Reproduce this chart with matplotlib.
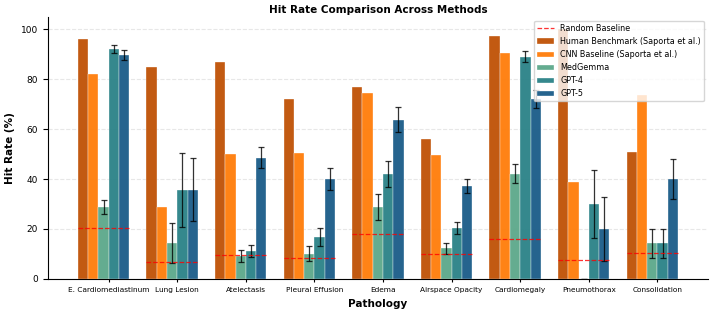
import numpy as np
import matplotlib.pyplot as plt

# Pathologies (x categories)
pathologies = ['E. Cardiomediastinum', 'Lung Lesion', 'Atelectasis', 'Pleural Effusion',
               'Edema', 'Airspace Opacity', 'Cardiomegaly', 'Pneumothorax', 'Consolidation']

# Hit rates (%)
human = [96.0, 85.0, 87.0, 72.0, 77.0, 56.0, 97.2, 100.0, 51.0]
cnn = [82.0, 29.0, 50.0, 50.5, 74.5, 49.7, 90.4, 39.0, 73.8]
medgemma = [28.7, 14.2, 9.2, 10.0, 28.8, 12.2, 42.2, 0.0, 14.2]
medgemma_err = [2.8, 8.0, 2.3, 3.0, 5.3, 2.2, 3.7, 0.0, 5.7]
gpt4 = [92.2, 35.7, 11.2, 16.6, 42.1, 20.3, 89.0, 30.0, 14.2]
gpt4_err = [1.5, 14.8, 2.4, 3.6, 5.3, 2.4, 2.2, 13.7, 5.7]
gpt5 = [89.6, 35.7, 48.5, 40.0, 63.8, 37.2, 72.0, 20.0, 40.0]
gpt5_err = [2.0, 12.7, 4.2, 4.5, 5.0, 2.7, 3.5, 12.7, 8.0]
random_baseline = [20.5, 6.8, 9.4, 8.4, 17.9, 9.8, 15.9, 7.5, 10.3]

series = [
    ('Human Benchmark (Saporta et al.)', human, None, '#c0550a'),
    ('CNN Baseline (Saporta et al.)', cnn, None, '#ff7f0e'),
    ('MedGemma', medgemma, medgemma_err, '#5fa98c'),
    ('GPT-4', gpt4, gpt4_err, '#2e8489'),
    ('GPT-5', gpt5, gpt5_err, '#1f5f8a'),
]

x = np.arange(len(pathologies))
width = 0.15

fig, ax = plt.subplots(figsize=(7.13, 3.18), dpi=100)
fig.subplots_adjust(left=0.067, right=0.993, top=0.947, bottom=0.123)

for i, (name, vals, err, color) in enumerate(series):
    offs = (i - 2.5) * width
    ax.bar(x + offs, vals, width, label=name, color=color, alpha=0.97,
           edgecolor='white', linewidth=0.25, zorder=2)
    if err is not None:
        ax.errorbar(x + offs, vals, yerr=err, fmt='none', ecolor='black',
                    elinewidth=0.9, capsize=2, capthick=0.9, alpha=0.8, zorder=3)

# random baseline per pathology
for j, b in enumerate(random_baseline):
    ax.plot([x[j] - 3 * width, x[j] + 2 * width], [b, b], color='red', linestyle='--',
            linewidth=0.9, alpha=0.8, zorder=4, label='Random Baseline' if j == 0 else None)

ax.set_title('Hit Rate Comparison Across Methods', fontsize=7.5, fontweight='bold', pad=3)
ax.set_xlabel('Pathology', fontsize=7.5, fontweight='bold')
ax.set_ylabel('Hit Rate (%)', fontsize=7.5, fontweight='bold')
ax.set_xticks(x)
ax.set_xticklabels(pathologies, fontsize=5.3)
ax.tick_params(axis='y', labelsize=6.5)
ax.tick_params(axis='x', length=2.5)
ax.set_ylim(0, 105)
ax.grid(axis='y', linestyle='--', alpha=0.3, zorder=0)
ax.set_axisbelow(True)
ax.spines['top'].set_visible(False)
ax.spines['right'].set_visible(False)
ax.legend(loc='upper right', fontsize=5.8, framealpha=0.8)

plt.savefig('out.png', dpi=100)
